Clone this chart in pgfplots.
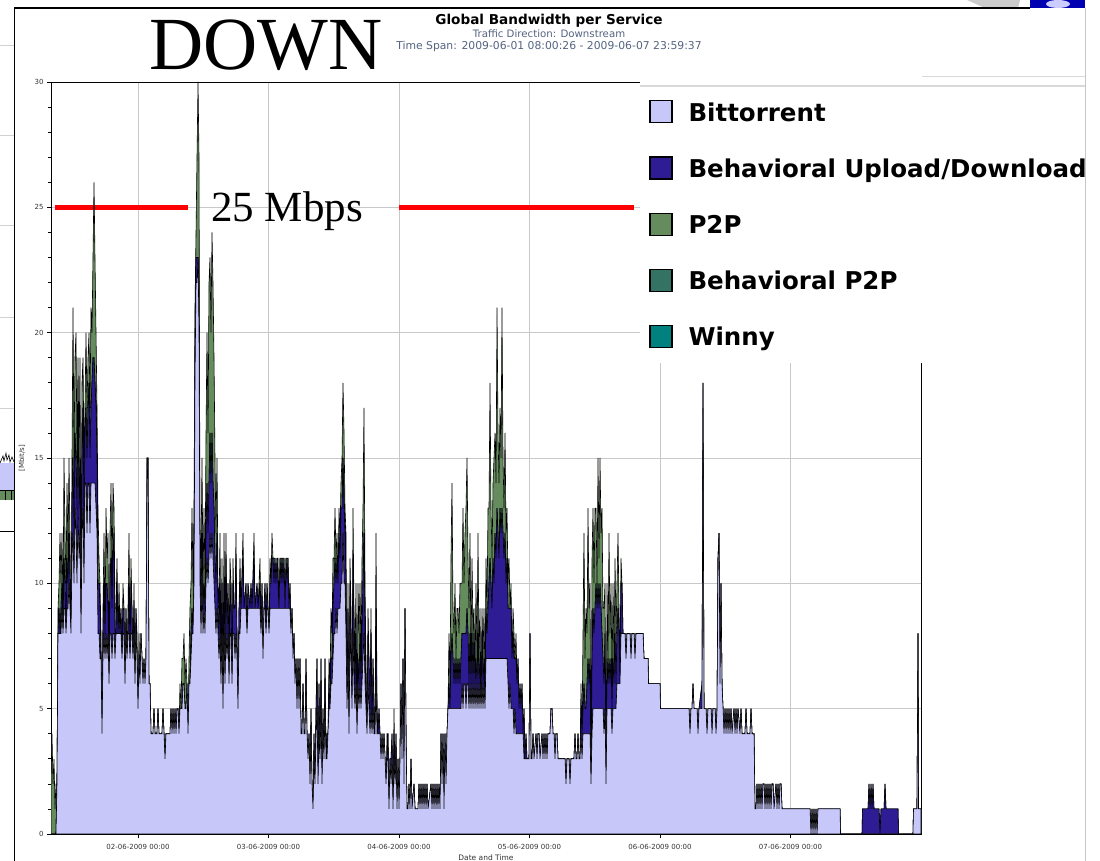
\documentclass[border=0pt]{standalone}
\usepackage{fontspec}
\setmainfont{DejaVu Sans}
\newfontfamily\timesfont{Liberation Serif}
\usepackage{xcolor}
\usepackage{pgfplots}
\usepackage{pgfplotstable}
\pgfplotsset{compat=1.18}

\definecolor{btcol}{RGB}{199,199,250}
\definecolor{budcol}{RGB}{45,28,148}
\definecolor{ptpcol}{RGB}{100,140,92}
\definecolor{bptpcol}{RGB}{52,114,100}
\definecolor{winnycol}{RGB}{0,128,126}
\definecolor{gridcol}{RGB}{200,200,200}
\definecolor{subcol}{RGB}{85,100,130}

% hours since 2009-06-01 00:00, Bittorrent, Behavioral Upload/Download, P2P [Mbit/s]
\pgfplotstableread{
h bt bud ptp
8.00 0 0 2
8.18 0 0 4
8.37 0 0 2
8.55 0 0 3
8.74 0 0 1
8.92 0 0 2
9.10 2 0 0
9.29 8 0 1
9.47 8 1 1
9.66 8 0 4
9.84 8 1 1
10.02 9 1 2
10.21 8 0 1
10.39 9 2 4
10.58 9 1 2
10.76 8 0 2
10.95 9 2 3
11.13 9 1 1
11.31 10 2 3
11.49 9 1 2
11.68 8 0 0
11.86 11 2 2
12.05 12 3 6
12.23 10 2 3
12.41 13 3 3
12.60 12 3 5
12.78 10 3 2
12.97 13 4 2
13.15 11 2 2
13.33 12 3 4
13.52 8 1 1
13.70 12 3 3
13.89 13 4 2
14.07 10 2 3
14.25 14 2 1
14.44 14 3 3
14.62 12 3 2
14.81 14 3 2
14.99 14 4 2
15.17 12 3 2
15.36 14 3 4
15.54 14 4 2
15.72 14 5 4
15.91 14 5 7
16.09 14 4 5
16.28 13 4 3
16.46 12 3 2
16.64 8 2 3
16.83 8 2 1
17.01 7 2 1
17.20 7 0 1
17.38 4 0 0
17.56 7 1 1
17.75 8 2 2
17.93 7 1 0
18.12 8 2 3
18.30 7 3 1
18.48 8 1 3
18.67 6 0 0
18.85 8 2 2
19.04 8 3 3
19.22 7 2 1
19.40 8 3 3
19.59 8 4 1
19.77 7 1 1
19.96 8 0 1
20.14 8 2 1
20.32 8 0 0
20.51 8 1 1
20.69 8 0 0
20.87 8 1 0
21.06 7 0 0
21.24 8 1 1
21.43 8 1 0
21.61 6 0 0
21.79 8 1 0
21.98 7 0 0
22.16 8 0 1
22.35 8 2 2
22.53 7 0 0
22.71 8 2 1
22.90 8 1 0
23.08 7 0 0
23.27 8 1 1
23.45 6 0 0
23.63 8 1 0
23.82 7 0 1
24.00 5 0 0
24.19 7 0 1
24.37 6 0 0
24.55 8 0 0
24.74 7 0 0
24.92 6 0 0
25.10 7 0 0
25.29 6 0 0
25.47 7 0 0
25.66 14 1 0
25.84 15 0 0
26.02 6 0 0
26.21 6 0 0
26.39 4 0 0
26.76 4 0 0
26.94 5 0 0
27.13 4 0 0
27.49 4 0 0
27.68 5 0 0
27.86 4 0 0
28.41 4 0 0
28.60 5 0 0
28.78 4 0 0
28.97 3 0 0
29.15 4 0 0
29.89 4 0 0
30.07 5 0 0
30.26 4 0 0
30.44 5 0 0
30.62 4 0 0
30.81 5 0 0
30.99 4 0 0
31.18 5 0 0
31.36 5 0 0
31.54 4 0 0
31.72 5 0 1
31.91 5 0 0
32.09 5 0 2
32.28 6 0 1
32.46 6 0 2
32.64 5 0 1
32.83 5 0 2
33.01 6 0 0
33.20 4 0 0
33.38 6 0 1
33.56 6 0 3
33.75 7 1 2
33.93 8 1 4
34.12 8 0 2
34.30 10 1 2
34.48 18 2 1
34.67 22 1 1
34.85 22 1 4
35.04 23 0 7
35.22 20 2 5
35.40 10 1 1
35.59 8 1 2
35.77 10 2 3
35.96 8 1 1
36.14 9 1 3
36.32 8 1 1
36.51 10 2 4
36.69 11 3 6
36.88 10 2 4
37.06 11 3 8
37.24 12 4 7
37.42 11 3 6
37.61 12 4 8
37.79 11 3 8
37.98 10 3 6
38.16 9 2 4
38.34 8 2 2
38.53 9 3 3
38.71 8 1 1
38.90 7 1 1
39.08 8 2 2
39.26 6 0 1
39.45 8 2 1
39.63 5 1 0
39.82 8 2 2
40.00 6 1 1
40.18 8 3 1
40.37 7 1 0
40.55 8 2 0
40.74 6 1 0
40.92 8 1 2
41.10 8 2 0
41.29 6 0 0
41.47 8 2 1
41.66 8 1 0
41.84 7 2 0
42.02 8 3 1
42.21 7 1 0
42.39 5 0 0
42.58 8 1 0
42.76 8 2 1
42.94 9 0 0
43.31 9 2 1
43.50 9 0 0
43.86 9 1 0
44.05 8 0 0
44.23 9 1 0
44.60 9 0 0
44.78 9 1 0
44.97 9 0 0
45.34 9 2 1
45.52 9 0 0
45.89 9 1 0
46.07 9 0 0
46.44 9 1 1
46.62 8 0 0
46.81 9 1 0
46.99 7 0 0
47.17 9 0 0
47.36 9 1 0
47.54 8 0 0
47.73 9 1 0
47.91 9 0 0
48.09 8 0 0
48.28 9 1 1
48.46 9 1 0
48.64 9 2 1
48.83 9 2 0
49.01 9 1 1
49.20 9 2 0
49.38 9 1 0
49.56 9 2 0
49.75 9 1 1
49.93 9 0 0
50.12 9 2 0
50.30 9 1 1
50.48 9 2 0
50.67 9 1 1
50.85 9 2 0
51.04 9 0 0
51.22 9 2 0
51.40 9 1 1
51.59 9 2 0
51.77 9 0 0
51.95 9 1 0
52.14 8 0 0
52.32 9 0 0
52.51 7 0 0
52.69 8 0 0
52.87 6 0 0
53.06 7 0 0
53.24 5 0 0
53.43 7 0 0
53.61 5 0 0
53.79 7 0 0
53.98 4 0 0
54.16 4 0 0
54.35 6 0 0
54.53 4 0 0
54.71 4 0 0
54.90 6 1 0
55.08 4 0 0
55.27 3 0 0
55.45 4 0 0
55.63 2 0 0
55.82 4 1 0
56.00 2 0 0
56.19 1 0 0
56.37 3 1 0
56.55 2 0 0
56.74 4 1 0
56.92 5 2 0
57.11 2 0 0
57.29 4 2 0
57.47 3 0 0
57.66 5 2 0
57.84 2 0 0
58.02 4 1 0
58.21 3 0 0
58.39 5 2 0
58.58 3 0 0
58.76 3 1 0
58.94 4 0 0
59.13 5 1 1
59.31 5 0 1
59.50 6 1 2
59.68 6 1 1
59.86 7 2 2
60.05 8 2 1
60.23 8 3 2
60.42 9 1 1
60.60 8 3 1
60.78 9 1 0
60.97 9 3 1
61.15 9 2 1
61.33 10 3 1
61.52 10 3 2
61.70 12 3 3
61.89 10 3 3
62.07 10 2 1
62.25 8 2 2
62.44 5 0 0
62.62 7 2 1
62.81 4 0 0
62.99 8 2 1
63.17 7 1 1
63.36 5 0 0
63.54 8 3 2
63.72 6 2 1
63.91 5 1 1
64.09 6 2 2
64.28 4 0 0
64.46 6 1 3
64.64 5 1 2
64.83 6 2 2
65.01 5 1 1
65.20 6 2 3
65.38 7 3 3
65.56 8 4 5
65.75 6 2 2
65.93 5 1 1
66.12 4 0 0
66.30 6 2 1
66.48 5 2 0
66.67 4 1 0
66.85 5 3 1
67.04 4 0 0
67.22 5 2 0
67.40 4 1 0
67.59 4 0 0
67.77 6 3 3
67.96 4 1 0
68.14 4 0 0
68.32 4 1 0
68.51 4 0 0
68.69 3 0 0
68.88 4 0 0
69.06 3 0 0
69.24 4 0 0
69.43 3 0 0
69.61 2 0 0
69.80 3 0 1
69.98 3 1 0
70.16 1 0 0
70.35 3 0 0
70.53 2 1 0
70.72 3 1 0
70.90 1 0 0
71.08 3 1 1
71.27 2 0 0
71.45 3 1 0
71.64 1 0 0
71.82 3 0 0
72.00 1 0 0
72.19 3 0 0
72.37 6 0 0
72.55 3 0 0
72.74 7 0 0
72.92 2 0 0
73.11 9 0 0
73.29 4 0 0
73.47 1 0 0
73.66 1 0 0
73.84 2 0 0
74.02 1 0 0
74.21 3 0 0
74.39 1 0 0
74.76 2 0 0
74.95 1 0 0
75.50 1 0 0
75.68 2 0 0
75.86 1 0 0
76.05 2 0 0
76.23 1 0 0
76.42 2 0 0
76.60 1 0 0
76.78 2 0 0
76.97 1 0 0
77.15 2 0 0
77.34 1 0 0
77.89 2 0 0
78.07 1 0 0
78.25 2 0 0
78.44 1 0 0
78.62 2 0 0
78.81 1 0 0
78.99 2 0 0
79.17 1 0 0
79.36 2 0 0
79.54 1 0 0
79.73 4 0 0
79.91 2 0 0
80.09 4 0 0
80.28 1 0 0
80.46 4 0 0
80.65 2 0 0
80.83 4 0 0
81.01 5 0 0
81.20 5 1 2
81.38 5 0 1
81.56 5 2 4
81.75 5 3 6
81.93 5 2 2
82.12 5 1 2
82.30 5 2 3
82.48 5 1 1
82.67 5 2 2
82.85 5 1 3
83.04 5 2 1
83.22 5 1 4
83.40 5 2 3
83.59 6 2 2
83.77 5 3 5
83.96 6 2 2
84.14 6 2 4
84.32 5 3 5
84.51 6 3 6
84.69 6 2 3
84.87 5 1 3
85.06 6 2 4
85.24 5 1 1
85.43 6 2 3
85.61 5 1 2
85.79 6 2 1
85.98 5 1 0
86.16 6 1 3
86.35 5 1 1
86.53 6 2 4
86.71 5 1 1
86.90 6 1 2
87.08 5 0 0
87.27 6 2 1
87.45 5 1 1
87.63 6 1 2
87.82 5 0 1
88.00 7 2 2
88.19 7 1 1
88.37 7 2 4
88.55 7 3 3
88.74 7 4 7
88.92 7 3 3
89.11 7 2 2
89.29 7 4 3
89.47 7 3 5
89.66 7 5 4
89.84 7 4 3
90.03 7 6 8
90.21 7 5 4
90.39 7 4 3
90.58 7 6 4
90.76 7 5 3
90.94 7 6 8
91.13 7 5 3
91.31 7 4 2
91.50 7 5 4
91.68 7 3 2
91.86 7 4 2
92.05 6 3 1
92.23 5 4 2
92.42 6 3 0
92.60 5 4 1
92.78 5 2 0
92.97 5 3 1
93.15 4 3 1
93.34 5 2 0
93.52 4 3 1
93.70 4 2 0
93.89 4 3 0
94.07 4 1 0
94.25 4 2 0
94.44 4 1 0
94.62 4 2 0
94.81 4 0 0
94.99 3 2 0
95.17 3 0 0
95.36 3 1 0
95.54 3 0 0
95.91 3 0 0
96.09 8 0 0
96.28 3 0 0
96.46 3 0 0
96.65 4 0 0
96.83 3 0 0
97.20 4 0 0
97.38 3 0 0
97.56 4 0 0
97.75 4 0 0
97.93 3 0 0
98.30 4 0 0
98.48 3 0 0
98.67 4 0 0
98.85 3 0 0
99.03 4 0 0
99.22 3 0 0
99.40 4 0 0
99.77 4 0 0
99.95 5 0 0
100.14 5 0 0
100.32 4 0 0
100.51 4 0 0
100.69 3 0 0
100.87 4 0 0
101.06 4 0 0
101.24 3 0 0
102.53 3 0 0
102.71 2 0 0
102.90 3 0 0
103.26 3 0 0
103.45 2 0 0
103.63 3 0 0
104.18 3 0 0
104.37 4 0 0
104.55 3 0 0
104.74 3 0 0
104.92 4 0 0
105.10 3 0 0
105.29 3 0 0
105.47 4 1 1
105.66 3 1 0
105.84 4 1 3
106.02 4 2 6
106.21 4 1 2
106.39 4 1 4
106.58 4 2 2
106.76 4 3 6
106.94 4 2 3
107.13 4 3 3
107.31 2 0 0
107.50 4 3 4
107.68 5 4 4
107.86 5 3 2
108.05 5 4 4
108.23 5 5 3
108.42 5 4 1
108.60 5 5 5
108.78 5 4 2
108.97 5 5 5
109.15 5 4 3
109.33 5 3 5
109.52 5 2 2
109.70 4 2 3
109.89 5 3 2
110.07 2 0 0
110.26 5 2 3
110.44 5 1 1
110.62 5 2 5
110.81 5 1 2
110.99 5 2 3
111.17 4 1 1
111.36 5 2 3
111.54 5 1 1
111.73 5 3 3
111.91 5 1 2
112.09 6 2 2
112.28 6 3 3
112.46 6 2 1
112.65 6 0 1
112.83 8 2 1
113.01 8 2 0
113.20 8 0 0
113.56 8 0 0
113.75 7 0 0
113.93 8 0 0
114.48 8 0 0
114.67 7 0 0
114.85 8 0 0
115.22 8 0 0
115.40 7 0 0
115.59 8 0 0
116.88 8 0 0
117.06 7 0 0
117.80 7 0 0
117.89 6 0 0
120.00 6 0 0
120.09 5 0 0
125.33 5 0 0
125.52 4 0 0
125.70 5 0 0
125.89 5 0 0
126.07 6 0 0
126.25 5 0 0
126.81 5 0 0
126.99 4 0 0
127.17 5 0 0
127.73 5 1 0
127.91 17 1 0
128.09 5 0 0
128.46 5 0 0
128.65 4 0 0
128.83 5 0 0
129.38 5 0 0
129.57 4 0 0
129.75 5 0 0
130.12 5 0 0
130.30 4 0 0
130.49 5 0 0
130.67 11 0 0
130.85 12 0 0
131.04 6 0 0
131.22 10 0 0
131.40 6 0 0
131.59 5 0 0
131.77 4 0 0
131.96 5 0 0
132.14 4 0 0
132.32 5 0 0
132.51 4 0 0
132.69 5 0 0
132.88 4 0 0
133.06 5 0 0
133.24 4 0 0
133.61 5 0 0
133.80 4 0 0
133.98 5 0 0
134.16 4 0 0
134.35 5 0 0
134.71 4 0 0
134.90 5 0 0
135.08 4 0 0
135.63 4 0 0
135.82 5 0 0
136.00 4 0 0
136.55 4 0 0
136.74 5 0 0
136.92 4 0 0
137.29 4 0 0
137.47 1 0 0
137.66 1 0 0
137.84 2 0 0
138.02 1 0 0
138.21 2 0 0
138.39 1 0 0
138.58 2 0 0
138.76 1 0 0
138.94 2 0 0
139.13 2 0 0
139.31 1 0 0
139.50 2 0 0
139.68 1 0 0
139.86 2 0 0
140.05 1 0 0
140.23 2 0 0
140.42 1 0 0
140.60 2 0 0
140.78 2 0 0
140.97 1 0 0
141.34 2 0 0
141.52 1 0 0
141.70 2 0 0
141.89 1 0 0
142.07 2 0 0
142.26 2 0 0
142.44 1 0 0
147.59 1 0 0
147.77 0 0 0
147.96 1 0 0
148.14 0 0 0
148.32 1 0 0
148.51 0 0 0
148.69 1 0 0
148.88 0 0 0
149.06 1 0 0
153.11 1 0 0
153.20 0 0 0
157.15 0 0 0
157.24 0 1 0
158.25 0 1 0
158.44 0 2 0
158.62 0 1 0
158.81 0 2 0
158.99 0 1 0
159.17 0 2 0
159.36 0 1 0
160.28 0 1 0
160.46 0 0 0
160.65 0 1 0
161.20 0 1 0
161.38 0 2 0
161.57 0 1 0
163.77 0 1 0
163.86 0 0 0
166.53 0 0 0
166.62 1 0 0
167.26 1 0 0
167.45 8 0 0
167.54 1 0 0
168.00 1 0 0
}\bwdata

\begin{document}
\begin{tikzpicture}[x=1pt,y=1pt]
\useasboundingbox (0,0) rectangle (1100,861);
\fill[white] (0,0) rectangle (1100,861);

% pieces of the surrounding screenshot
\foreach \yy in {816,726,636,544,453} \draw[gray!35, line width=0.8pt] (0,\yy) -- (14,\yy);
\fill[btcol] (0,371) rectangle (14,398);
\fill[ptpcol] (0,361) rectangle (14,371);
\draw[black, line width=0.6pt] (0,398) -- (3,405) -- (4,400) -- (6,408) -- (7,401) -- (9,406) -- (10,399) -- (12,404) -- (14,399);
\draw[black, line width=0.6pt] (0,371) -- (14,371) (5,361) -- (5,371) (11,361) -- (11,371);
\draw[black, line width=0.8pt] (0,330) -- (14,330);
\fill[gray!40] (967,861) -- (1020,861) -- (1018,853) -- (985,853) -- cycle;
\fill[blue!70!black] (1030,853) rectangle (1085,861);
\fill[white!80!blue] (1058,857) ellipse (12 and 4);

\begin{axis}[
  at={(51pt,27pt)}, anchor=south west,
  scale only axis, width=870pt, height=752pt,
  xmin=8, xmax=168, ymin=0, ymax=30,
  stack plots=y,
  xtick={24,48,72,96,120,144},
  xticklabels={02-06-2009 00:00,03-06-2009 00:00,04-06-2009 00:00,05-06-2009 00:00,06-06-2009 00:00,07-06-2009 00:00},
  ytick={0,5,...,30},
  minor ytick={0,1,...,30},
  xtick pos=bottom, ytick pos=left,
  tick align=outside,
  major tick length=4pt, minor tick length=3pt,
  every tick/.style={black, line width=0.6pt},
  grid=major,
  major grid style={gridcol, line width=0.8pt},
  axis line style={black, line width=0.8pt},
  /pgf/number format/assume math mode=true,
  tick label style={font=\fontsize{7}{8}\selectfont, text=black!80},
  xticklabel style={yshift=-3pt},
  xlabel={Date and Time},
  xlabel style={at={(axis description cs:0.5,-0.0359)}, anchor=base, font=\fontsize{7.5}{8}\selectfont, text=black!80},
  ylabel={[Mbit/s]},
  ylabel style={at={(axis description cs:-0.0333,0.5)}, anchor=center, font=\fontsize{7}{8}\selectfont, text=black!80},
  legend cell align=left,
  legend image code/.code={\draw[#1, draw=black, line width=1.3pt] (0pt,-10pt) rectangle (22pt,12pt);},
  legend style={
    at={(rel axis cs:0.677,0.9947)}, anchor=north west,
    draw=none, fill=white,
    font=\bfseries\fontsize{24.5}{28}\selectfont,
    inner xsep=9pt, inner ysep=14pt,
    row sep=31.5pt, column sep=14pt,
    cells={anchor=west},
  },
]
\addplot[fill=btcol, draw=black, line width=0.6pt] table[x=h, y=bt] {\bwdata} \closedcycle;
\addlegendentry{Bittorrent}
\addplot[fill=budcol, draw=black, line width=0.6pt] table[x=h, y=bud] {\bwdata} \closedcycle;
\addlegendentry{Behavioral Upload/Download}
\addplot[fill=ptpcol, draw=black, line width=0.6pt] table[x=h, y=ptp] {\bwdata} \closedcycle;
\addlegendentry{P2P}
\addlegendimage{fill=bptpcol}
\addlegendentry{Behavioral P2P}
\addlegendimage{fill=winnycol}
\addlegendentry{Winny}

\draw[red, line width=5pt] (axis cs:8.74,25) -- (axis cs:33.20,25);
\draw[red, line width=5pt] (axis cs:72.00,25) -- (axis cs:115.22,25);
\end{axis}

% frame of the screenshot
\fill[white] (1086,0) rectangle (1100,853);
\fill[white] (639.5,773) rectangle (1085,782.5);
\draw[black, line width=1.2pt] (14.5,0) -- (14.5,853) -- (1030,853);
\draw[gray!45, line width=1pt] (1085.5,0) -- (1085.5,853);
\draw[gray!30, line width=0.8pt] (922,785) -- (1085,785);
\draw[gray!30, line width=2pt] (640,774.5) -- (1085,774.5);

% headings
\node[anchor=base, font=\timesfont\fontsize{75}{75}\selectfont, inner sep=0pt] at (266,791) {DOWN};
\node[anchor=base, font=\bfseries\fontsize{13.6}{15}\selectfont, inner sep=0pt] at (549,836) {Global Bandwidth per Service};
\node[anchor=base, font=\fontsize{10.2}{12}\selectfont, text=subcol, inner sep=0pt] at (549,823) {Traffic Direction: Downstream};
\node[anchor=base, font=\fontsize{10.8}{12}\selectfont, text=subcol, inner sep=0pt] at (549,811) {Time Span: 2009-06-01 08:00:26 - 2009-06-07 23:59:37};
\node[anchor=base west, font=\timesfont\fontsize{43}{43}\selectfont, inner sep=0pt] at (211,639) {25 Mbps};
\end{tikzpicture}
\end{document}
